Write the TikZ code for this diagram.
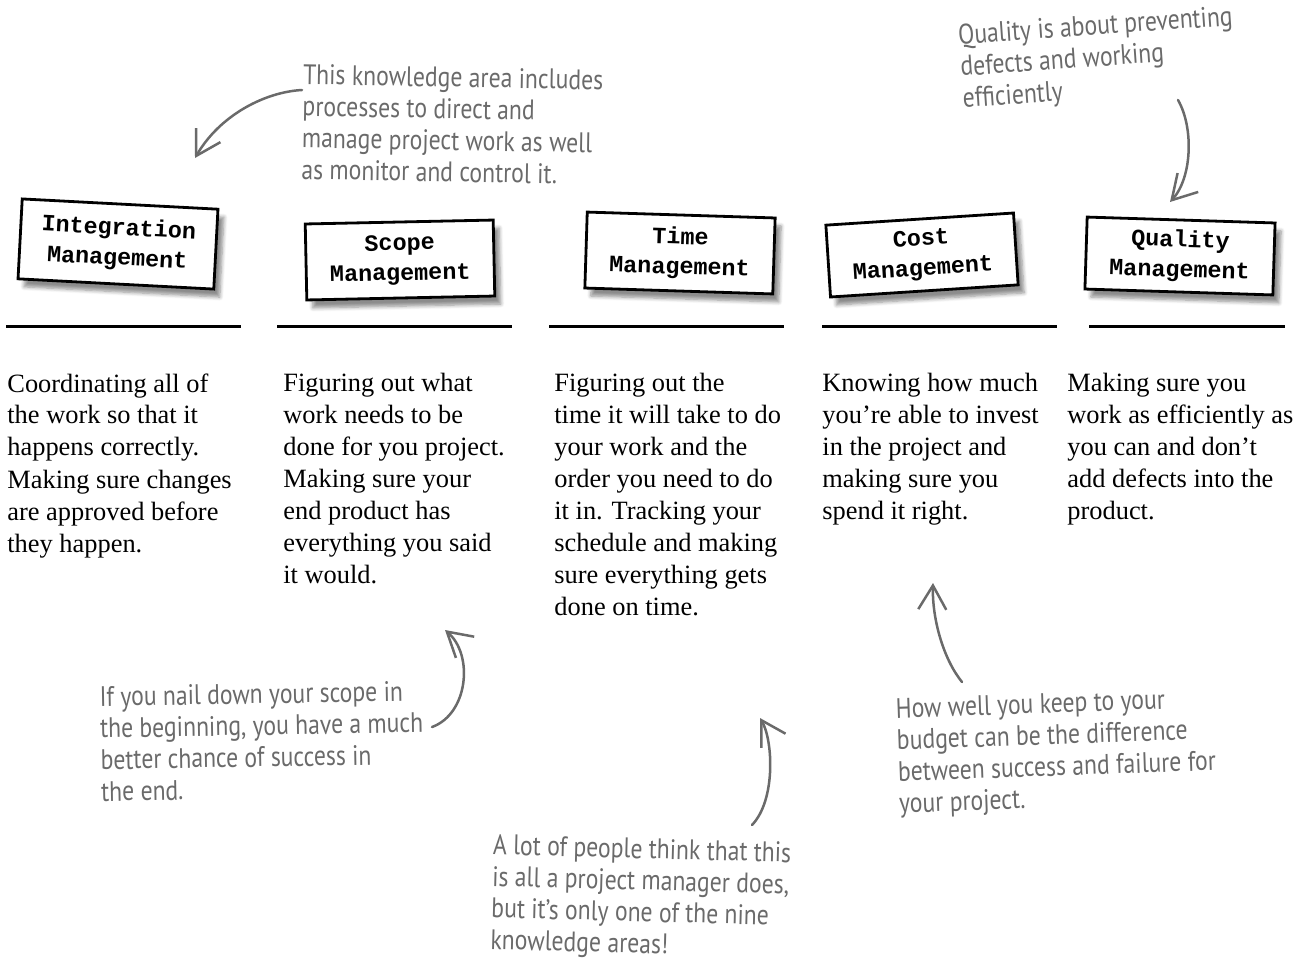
\documentclass[tikz,border=0pt]{standalone}
\usepackage{fontspec}
\setmainfont{Liberation Serif}
\setmonofont{Liberation Mono}
\newfontfamily\scribfont[FakeStretch=0.84]{PT Sans}
\usetikzlibrary{positioning,arrows.meta,calc,shadows.blur}
\definecolor{scribgray}{HTML}{6A6A6A}
\tikzset{
    kabox/.style={draw=black,line width=1.4pt,fill=white,align=center,inner sep=2pt,
        font=\ttfamily\bfseries\fontsize{11.7}{15}\selectfont,
        minimum width=94pt,minimum height=38pt,
        blur shadow={shadow xshift=3pt,shadow yshift=-4pt,shadow blur steps=6,shadow opacity=45}},
    kadesc/.style={anchor=north west,align=left,inner sep=0pt,font=\fontsize{13.2}{16}\selectfont},
    kaline/.style={line width=1.5pt},
    scribble/.style={anchor=north west,align=left,inner sep=0pt,text=scribgray,
        font=\scribfont\fontsize{14.1}{15.8}\selectfont},
    scribarrow/.style={draw=scribgray,line width=1.25pt,line cap=round,
        -{Straight Barb[length=12pt,width=14pt,line width=1.25pt]}}
}

\begin{document}
\begin{tikzpicture}[x=0.5pt,y=-0.5pt]
\useasboundingbox (0,0) rectangle (1294,964);

\node[kabox,minimum width=98pt,minimum height=40pt,rotate=-3] (intg) at (118,244) {Integration\\Management};
\node[kabox,rotate=1.2] (scope) at (400,260) {Scope\\Management};
\node[kabox,rotate=-1.8] (time) at (680,253) {Time\\Management};
\node[kabox,minimum height=36pt,rotate=3.7] (cost) at (922,255) {Cost\\Management};
\node[kabox,minimum height=36pt,rotate=-1.8] (quality) at (1180,256) {Quality\\Management};

\foreach \xa/\xb in {6/241,277/512,549/784,822/1057,1089/1285}
    \draw[kaline] (\xa,326) -- (\xb,326);

\node[kadesc] (intgtxt) at (7,373) {Coordinating all of\\the work so that it\\happens correctly.\\Making sure changes\\are approved before\\they happen.};
\node[kadesc] (scopetxt) at (283,373) {Figuring out what\\work needs to be\\done for you project.\\Making sure your\\end product has\\everything you said\\it would.};
\node[kadesc] (timetxt) at (554,373) {Figuring out the\\time it will take to do\\your work and the\\order you need to do\\it in. Tracking your\\schedule and making\\sure everything gets\\done on time.};
\node[kadesc] (costtxt) at (822,373) {Knowing how much\\you’re able to invest\\in the project and\\making sure you\\spend it right.};
\node[kadesc] (qualtxt) at (1067,373) {Making sure you\\work as efficiently as\\you can and don’t\\add defects into the\\product.};

\node[scribble,rotate=-1] (intgnote) at (303,64) {This knowledge area includes\\processes to direct and\\manage project work as well\\as monitor and control it.};
\node[scribble,rotate=4] (qualnote) at (957,24) {Quality is about preventing\\defects and working\\efficiently};
\node[scribble,rotate=1] (scopenote) at (99,686) {If you nail down your scope in\\the beginning, you have a much\\better chance of success in\\the end.};
\node[scribble,rotate=-1.5] (timenote) at (493,834) {A lot of people think that this\\is all a project manager does,\\but it’s only one of the nine\\knowledge areas!};
\node[scribble,rotate=2] (costnote) at (895,698) {How well you keep to your\\budget can be the difference\\between success and failure for\\your project.};

\coordinate (intgtip) at (195,158);
\coordinate (qualtip) at (1170,202);
\coordinate (scopetip) at (445,630);
\coordinate (timetip) at (760,718);
\coordinate (costtip) at (933,583);

\draw[scribarrow] ($(intgnote.north west)+(-1,26)$) .. controls (265,92) and (220,115) .. (intgtip);
\draw[scribarrow] ($(qualnote.north west)+(221,76)$) .. controls (1194,128) and (1192,178) .. (qualtip);
\draw[scribarrow] ($(scopenote.north west)+(333,41)$) .. controls (468,714) and (474,655) .. (scopetip);
\draw[scribarrow] ($(timenote.north west)+(259,-9)$) .. controls (776,800) and (773,740) .. (timetip);
\draw[scribarrow] ($(costnote.north west)+(67,-16)$) .. controls (944,660) and (932,620) .. (costtip);
\end{tikzpicture}
\end{document}
